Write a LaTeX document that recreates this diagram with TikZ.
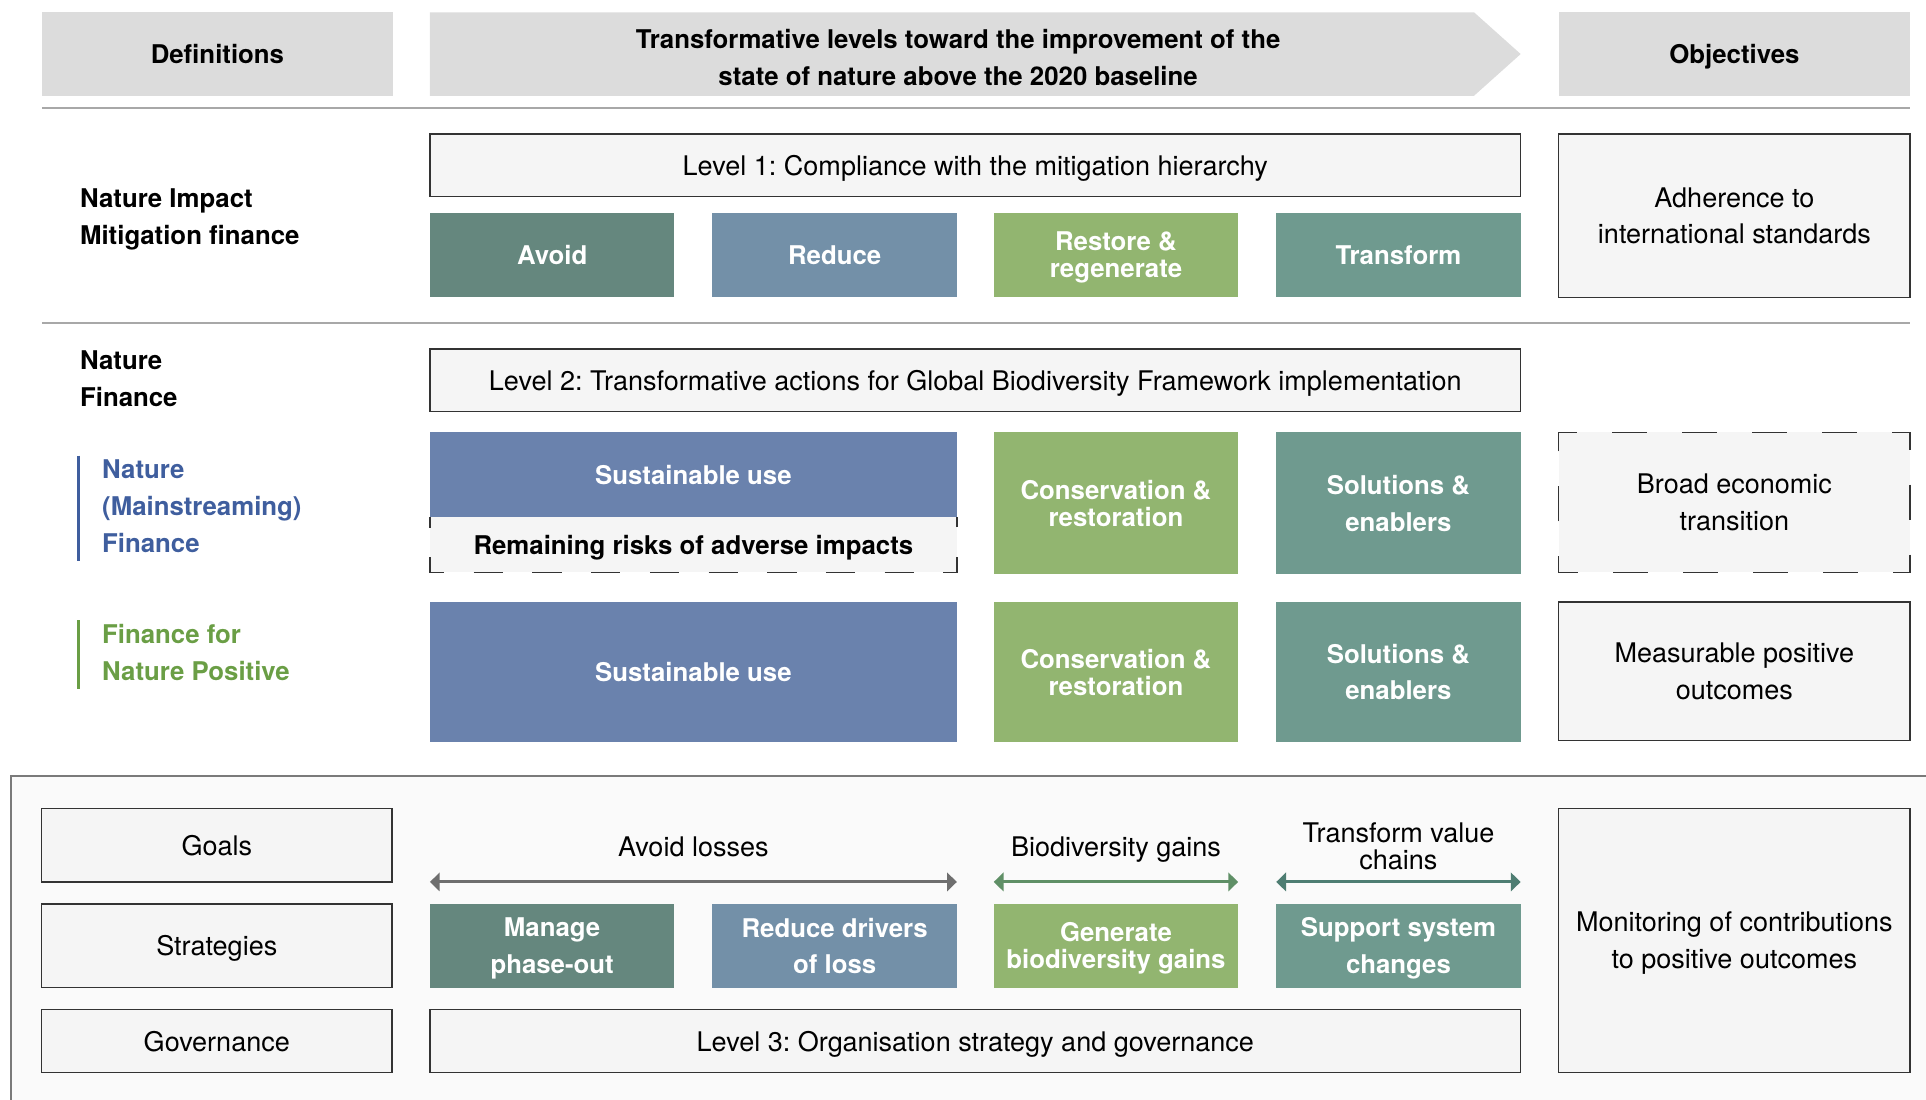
\documentclass[tikz,border=0pt]{standalone}
\usepackage{fontspec}
\setmainfont{TeX Gyre Heros}
\usetikzlibrary{arrows.meta}
\frenchspacing
\definecolor{hdrgrey}{HTML}{DCDCDC}
\definecolor{boxfill}{HTML}{F5F5F5}
\definecolor{boxline}{HTML}{333333}
\definecolor{rulegrey}{HTML}{A8A8A8}
\definecolor{avoidc}{HTML}{65877E}
\definecolor{reducec}{HTML}{7390A8}
\definecolor{greenc}{HTML}{92B570}
\definecolor{tealc}{HTML}{6F9A8F}
\definecolor{bluec}{HTML}{6A82AD}
\definecolor{bluetext}{HTML}{3F5E9E}
\definecolor{greentext}{HTML}{6A9E45}
\definecolor{panelfill}{HTML}{FAFAFA}
\definecolor{panelline}{HTML}{7A7A7A}
\definecolor{arrgrey}{HTML}{6E6E6E}
\definecolor{arrgreen}{HTML}{5F8F66}
\definecolor{arrteal}{HTML}{4E7D72}
\begin{document}
\begin{tikzpicture}[x=1pt,y=-1pt,
  base/.style={inner sep=0pt, outer sep=0pt, align=center, text depth=0pt, font=\fontsize{22}{30}\selectfont},
  sz/.style 2 args={minimum width=#1pt, minimum height=#2pt},
  hdr/.style={base, fill=hdrgrey, font=\fontsize{21}{30}\selectfont\bfseries},
  lbox/.style={base, fill=boxfill, draw=boxline, line width=1.1pt},
  cbox/.style={base, text=white, font=\fontsize{21}{30}\selectfont\bfseries},
  tight/.style={font=\fontsize{21}{22}\selectfont\bfseries},
  lefttxt/.style={inner sep=0pt, anchor=west, align=left, text depth=0pt, font=\fontsize{21}{30}\selectfont\bfseries},
  hrule/.style={draw=rulegrey, line width=1.8pt},
  dbl/.style={line width=2.5pt, {Triangle[length=8pt,width=15pt]}-{Triangle[length=8pt,width=15pt]}}
]
\useasboundingbox (0,0) rectangle (1568,895);

% header
\node[hdr, sz={286}{68}] (def) at (177,44) {Definitions};
\fill[hdrgrey] (350,10) -- (1200,10) -- (1238,44) -- (1200,78) -- (350,78) -- cycle;
\node[base, font=\fontsize{21}{30}\selectfont\bfseries] (lev) at (780,47) {Transformative levels toward the improvement of the\\state of nature above the 2020 baseline};
\node[hdr, sz={286}{68}] (obj) at (1412,44) {Objectives};
\draw[hrule] (34,88) -- (1555,88);

% section 1
\node[lefttxt] (nimf) at (65,176.5) {Nature Impact\\Mitigation finance};
\node[lbox, sz={888}{51}] (l1) at (794,134.5) {Level 1: Compliance with the mitigation hierarchy};
\node[cbox, fill=avoidc, sz={199}{69}] (avoid) at (449.5,207.5) {Avoid};
\node[cbox, fill=reducec, sz={199}{69}] (reduce) at (679.5,207.5) {Reduce};
\node[cbox, tight, fill=greenc, sz={199}{69}] (restore) at (908.5,207.5) {Restore \&\\regenerate};
\node[cbox, fill=tealc, sz={199}{69}] (transform) at (1138.5,207.5) {Transform};
\node[lbox, sz={286}{133}] (adh) at (1412,175.5) {Adherence to\\international standards};
\draw[hrule] (34,263) -- (1555,263);

% section 2
\node[lefttxt] (nf) at (65,308.5) {Nature\\Finance};
\node[lbox, sz={888}{51}] (l2) at (794,309.5) {Level 2: Transformative actions for Global Biodiversity Framework implementation};
\draw[bluetext, line width=2.3pt] (64,371) -- (64,457);
\node[lefttxt, text=bluetext] (nmf) at (83,412) {Nature\\(Mainstreaming)\\Finance};
\node[cbox, fill=bluec, sz={429}{69}] (su1) at (564.5,386.5) {Sustainable use};
\node[base, fill=boxfill, sz={429}{45}, font=\fontsize{21}{30}\selectfont\bfseries] (rr) at (564.5,443.5) {Remaining risks of adverse impacts};
\draw[boxline, line width=1.1pt, dash pattern=on 23.9pt off 23.9pt, dash phase=15pt] (rr.north west) -- (rr.south west) -- (rr.south east) -- (rr.north east);
\node[cbox, tight, fill=greenc, sz={199}{115}] (cr1) at (908.5,409.5) {Conservation \&\\restoration};
\node[cbox, fill=tealc, sz={199}{115}] (se1) at (1138.5,409.5) {Solutions \&\\enablers};
\node[base, fill=boxfill, sz={286}{114}] (bet) at (1412,409) {Broad economic\\transition};
\draw[boxline, line width=1.1pt, dash pattern=on 28.5pt off 28.5pt, dash phase=13.5pt] (bet.north west) -- (bet.north east) -- (bet.south east) -- (bet.south west) -- cycle;

\draw[greentext, line width=2.3pt] (64,505) -- (64,561);
\node[lefttxt, text=greentext] (fnp) at (83,531) {Finance for\\Nature Positive};
\node[cbox, fill=bluec, sz={429}{114}] (su2) at (564.5,547) {Sustainable use};
\node[cbox, tight, fill=greenc, sz={199}{114}] (cr2) at (908.5,547) {Conservation \&\\restoration};
\node[cbox, fill=tealc, sz={199}{114}] (se2) at (1138.5,547) {Solutions \&\\enablers};
\node[lbox, sz={286}{113}] (mpo) at (1412,546.5) {Measurable positive\\outcomes};

% bottom panel
\fill[panelfill] (9,632) rectangle (1580,900);
\draw[panelline, line width=1.5pt] (9,900) -- (9,632) -- (1580,632);
\node[lbox, sz={285}{60}] (goals) at (176.5,688) {Goals};
\node[lbox, sz={285}{68}] (strat) at (176.5,770) {Strategies};
\node[lbox, sz={285}{51}] (gov) at (176.5,847.5) {Governance};

\node[base] (al) at (564.5,689) {Avoid losses};
\node[base] (bg) at (908.5,689) {Biodiversity gains};
\node[base, font=\fontsize{22}{22}\selectfont] (tvc) at (1138.5,689) {Transform value\\chains};
\coordinate (a1) at (350,718); \coordinate (a2) at (779,718);
\coordinate (b1) at (809,718); \coordinate (b2) at (1008,718);
\coordinate (c1) at (1039,718); \coordinate (c2) at (1238,718);
\draw[dbl, arrgrey] (a1) -- (a2);
\draw[dbl, arrgreen] (b1) -- (b2);
\draw[dbl, arrteal] (c1) -- (c2);

\node[cbox, fill=avoidc, sz={199}{68}] (mpo2) at (449.5,770) {Manage\\phase-out};
\node[cbox, fill=reducec, sz={199}{68}] (rdl) at (679.5,770) {Reduce drivers\\of loss};
\node[cbox, tight, fill=greenc, sz={199}{68}] (gbg) at (908.5,770) {Generate\\biodiversity gains};
\node[cbox, fill=tealc, sz={199}{68}] (ssc) at (1138.5,770) {Support system\\changes};
\node[lbox, sz={888}{51}] (l3) at (794,847.5) {Level 3: Organisation strategy and governance};
\node[lbox, sz={286}{215}] (mon) at (1412,765.5) {Monitoring of contributions\\to positive outcomes};
\end{tikzpicture}
\end{document}
